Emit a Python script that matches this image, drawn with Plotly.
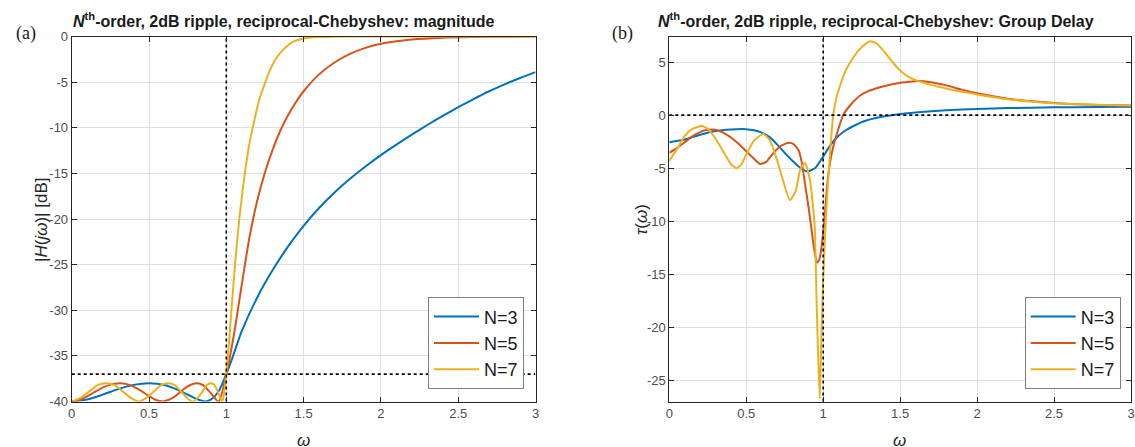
import plotly.graph_objects as go

# ---------------- data ----------------
series_names = ["N=3", "N=5", "N=7"]
series_colors = ["#0072BD", "#D95319", "#EDB120"]

# magnitude |H(jw)| in dB
mag_w3 = [0, 0.1, 0.2, 0.3, 0.4, 0.5, 0.6, 0.7, 0.8, 0.86, 0.9, 0.95, 1.0, 1.05, 1.1, 1.2, 1.3,
          1.4, 1.5, 1.6, 1.7, 1.8, 1.9, 2.0, 2.1, 2.2, 2.3, 2.4, 2.5, 2.6, 2.7, 2.8, 2.9, 3.0]
mag_db3 = [-40, -39.78, -39.25, -38.64, -38.18, -38.0, -38.2, -38.83, -39.65, -40.0, -39.8, -38.9,
           -37.0, -34.7, -32.3, -28.6, -25.6, -23.0, -20.75, -18.8, -17.1, -15.6, -14.25, -13.0,
           -11.85, -10.75, -9.7, -8.7, -7.75, -6.85, -6.0, -5.25, -4.55, -3.9]

mag_w5 = [0, 0.05, 0.1, 0.15, 0.2, 0.25, 0.31, 0.35, 0.4, 0.45, 0.5, 0.55, 0.59, 0.65, 0.7, 0.75,
          0.81, 0.85, 0.9, 0.95, 1.0, 1.05, 1.1, 1.15, 1.2, 1.25, 1.3, 1.35, 1.4, 1.45, 1.5, 1.6,
          1.7, 1.8, 1.9, 2.0, 2.2, 2.4, 2.6, 2.8, 3.0]
mag_db5 = [-40, -39.85, -39.45, -38.95, -38.48, -38.15, -38.0, -38.07, -38.37, -38.84, -39.41,
           -39.87, -40.0, -39.64, -38.99, -38.34, -38.0, -38.21, -39.09, -40.0, -37.0, -32.6,
           -27.2, -22.0, -18.0, -14.9, -12.4, -10.3, -8.6, -7.2, -6.0, -4.15, -2.85, -1.9,
           -1.25, -0.8, -0.33, -0.13, -0.05, -0.02, 0]

mag_w7 = [0, 0.056, 0.112, 0.1675, 0.2225, 0.2768, 0.3303, 0.3827, 0.4339, 0.4837, 0.532, 0.5786,
          0.6235, 0.6663, 0.7071, 0.7456, 0.7818, 0.8155, 0.8468, 0.8752, 0.901, 0.9239, 0.9439,
          0.9609, 0.9749, 0.988, 1.0, 1.02, 1.04, 1.06, 1.086, 1.11, 1.129, 1.15, 1.172, 1.2,
          1.215, 1.25, 1.28, 1.31, 1.344, 1.39, 1.43, 1.5, 1.6, 1.8, 3.0]
mag_db7 = [-40, -39.6, -38.9, -38.2, -38.0, -38.2, -38.9, -39.6, -40.0, -39.6, -38.9, -38.2,
           -38.0, -38.2, -38.9, -39.6, -40.0, -39.6, -38.9, -38.2, -38.0, -38.2, -38.9, -39.6,
           -40.0, -38.8, -37.0, -33.0, -28.5, -24.3, -19.7, -16.3, -13.9, -11.7, -9.9, -7.8,
           -6.8, -5.1, -3.8, -2.75, -1.9, -1.1, -0.6, -0.22, -0.06, 0.0, 0.0]

# group delay tau(w)
gd_w3 = [0, 0.1, 0.2, 0.3, 0.4, 0.5, 0.55, 0.6, 0.65, 0.7, 0.75, 0.8, 0.85, 0.9, 0.95, 1.0, 1.05,
         1.1, 1.15, 1.2, 1.27, 1.35, 1.5, 1.6, 1.8, 2.0, 2.2, 2.5, 2.8, 3.0]
gd_t3 = [-2.56, -2.3, -1.85, -1.5, -1.35, -1.32, -1.42, -1.65, -2.05, -2.75, -3.55, -4.3, -4.95,
         -5.3, -4.95, -3.9, -2.75, -1.95, -1.4, -1.0, -0.55, -0.25, 0.1, 0.25, 0.45, 0.58, 0.66,
         0.73, 0.77, 0.78]

gd_w5 = [0, 0.05, 0.1, 0.15, 0.2, 0.25, 0.3, 0.35, 0.4, 0.45, 0.5, 0.55, 0.59, 0.63, 0.68, 0.73,
         0.775, 0.81, 0.84, 0.86, 0.88, 0.9, 0.92, 0.94, 0.96, 0.975, 0.99, 1.0, 1.01, 1.022,
         1.035, 1.05, 1.065, 1.09, 1.13, 1.18, 1.24, 1.3, 1.4, 1.5, 1.6, 1.7, 1.8, 1.9, 2.0,
         2.2, 2.4, 2.6, 2.8, 3.0]
gd_t5 = [-3.53, -3.1, -2.55, -2.0, -1.6, -1.38, -1.38, -1.65, -2.1, -2.7, -3.4, -4.1, -4.6, -4.4,
         -3.5, -2.85, -2.6, -2.75, -3.3, -4.4, -6.3, -8.2, -10.3, -12.5, -13.9, -13.6, -12.3,
         -11.0, -9.5, -7.2, -5.4, -4.0, -3.0, -1.7, 0.0, 1.0, 1.85, 2.3, 2.75, 3.05, 3.2, 3.1,
         2.8, 2.4, 2.05, 1.55, 1.25, 1.05, 0.95, 0.9]

gd_w7 = [0, 0.05, 0.1, 0.15, 0.21, 0.25, 0.3, 0.35, 0.4, 0.437, 0.47, 0.5, 0.55, 0.61, 0.65, 0.7,
         0.74, 0.784, 0.82, 0.85, 0.88, 0.91, 0.93, 0.946, 0.957, 0.968, 0.978, 0.988, 1.0,
         1.01, 1.022, 1.04, 1.05, 1.065, 1.085, 1.108, 1.14, 1.173, 1.23, 1.28, 1.303, 1.34,
         1.39, 1.45, 1.5, 1.55, 1.6, 1.7, 1.8, 1.9, 2.0, 2.2, 2.4, 2.6, 2.8, 3.0]
gd_t7 = [-4.31, -3.2, -1.95, -1.3, -1.03, -1.3, -2.2, -3.4, -4.6, -5.0, -4.6, -3.7, -2.4, -1.78,
         -2.3, -4.2, -6.2, -8.0, -7.2, -5.2, -4.47, -5.8, -8.0, -10.8, -17.5, -23.0, -26.7,
         -21.0, -15.5, -12.0, -8.5, -4.5, -2.5, 0.0, 1.6, 2.7, 4.0, 4.9, 6.1, 6.75, 6.95, 6.8,
         6.1, 5.0, 4.2, 3.65, 3.3, 2.85, 2.5, 2.2, 1.95, 1.5, 1.22, 1.05, 0.95, 0.9]

# reference lines
cutoff_w = 1.0
mag_ref_db = -37.0
gd_ref = 0.0

# axis ranges and ticks
w_range = [0, 3]
mag_range = [-40, 0]
gd_range = [-26.95, 7.4]
w_ticks = [0, 0.5, 1, 1.5, 2, 2.5, 3]
w_ticktext = ["0", "0.5", "1", "1.5", "2", "2.5", "3"]
mag_ticks = [0, -5, -10, -15, -20, -25, -30, -35, -40]
mag_ticktext = ["0", "-5", "-10", "-15", "-20", "-25", "-30", "-35", "-40"]
gd_ticks = [5, 0, -5, -10, -15, -20, -25]
gd_ticktext = ["5", "0", "-5", "-10", "-15", "-20", "-25"]

title_a = "<b><i>N</i><sup>th</sup>-order, 2dB ripple, reciprocal-Chebyshev: magnitude</b>"
title_b = "<b><i>N</i><sup>th</sup>-order, 2dB ripple, reciprocal-Chebyshev: Group Delay</b>"

# ---------------- figure ----------------
W, H = 1135, 447
fig = go.Figure()

mag_data = [(mag_w3, mag_db3), (mag_w5, mag_db5), (mag_w7, mag_db7)]
gd_data = [(gd_w3, gd_t3), (gd_w5, gd_t5), (gd_w7, gd_t7)]

for (wx, yy), name, col in zip(mag_data, series_names, series_colors):
    fig.add_trace(go.Scatter(x=wx, y=yy, mode="lines", name=name,
                             line=dict(color=col, width=2, shape="spline", smoothing=0.7),
                             xaxis="x", yaxis="y", legend="legend"))
for (wx, yy), name, col in zip(gd_data, series_names, series_colors):
    fig.add_trace(go.Scatter(x=wx, y=yy, mode="lines", name=name,
                             line=dict(color=col, width=2, shape="spline", smoothing=0.5),
                             xaxis="x2", yaxis="y2", legend="legend2"))

dot = dict(color="black", width=1.6, dash="dot")
fig.add_trace(go.Scatter(x=[cutoff_w, cutoff_w], y=mag_range, mode="lines", line=dot,
                         showlegend=False, xaxis="x", yaxis="y", hoverinfo="skip"))
fig.add_trace(go.Scatter(x=w_range, y=[mag_ref_db, mag_ref_db], mode="lines", line=dot,
                         showlegend=False, xaxis="x", yaxis="y", hoverinfo="skip"))
fig.add_trace(go.Scatter(x=[cutoff_w, cutoff_w], y=gd_range, mode="lines", line=dot,
                         showlegend=False, xaxis="x2", yaxis="y2", hoverinfo="skip"))
fig.add_trace(go.Scatter(x=w_range, y=[gd_ref, gd_ref], mode="lines", line=dot,
                         showlegend=False, xaxis="x2", yaxis="y2", hoverinfo="skip"))

font_family = "Liberation Sans, Arial, Helvetica, sans-serif"
tickfont = dict(family=font_family, size=13, color="#4d4d4d")
axis_common = dict(showline=True, linecolor="#262626", linewidth=1, mirror="ticks",
                   ticks="inside", ticklen=5, tickcolor="#262626", tickwidth=1,
                   showgrid=True, gridcolor="#e0e0e0", gridwidth=1, zeroline=False,
                   tickfont=tickfont, automargin=False, ticklabeloverflow="allow")

dom_y = [1 - 401.5 / H, 1 - 36.5 / H]
legend_font = dict(family=font_family, size=18, color="#1a1a1a")
fig.update_layout(
    width=W, height=H,
    margin=dict(l=0, r=0, t=0, b=0, autoexpand=False),
    paper_bgcolor="white", plot_bgcolor="white",
    xaxis=dict(domain=[71.7 / W, 535.5 / W], range=w_range, tickvals=w_ticks,
               ticktext=w_ticktext, anchor="y", **axis_common),
    yaxis=dict(domain=dom_y, range=mag_range, tickvals=mag_ticks, ticktext=mag_ticktext,
               anchor="x", **axis_common),
    xaxis2=dict(domain=[669.3 / W, 1131 / W], range=w_range, tickvals=w_ticks,
                ticktext=w_ticktext, anchor="y2", **axis_common),
    yaxis2=dict(domain=dom_y, range=gd_range, tickvals=gd_ticks, ticktext=gd_ticktext,
                anchor="x2", **axis_common),
    legend=dict(x=524 / W, y=1 - 389.3 / H, xanchor="right", yanchor="bottom",
                bgcolor="white", bordercolor="#808080", borderwidth=1,
                font=legend_font, itemwidth=45),
    legend2=dict(x=1120.7 / W, y=1 - 389.3 / H, xanchor="right", yanchor="bottom",
                 bgcolor="white", bordercolor="#808080", borderwidth=1,
                 font=legend_font, itemwidth=45),
    showlegend=True,
)

serif = "Liberation Serif, Times New Roman, serif"
ann = []
ann.append(dict(text=title_a, x=71 / W, y=1 - 20 / H, xref="paper", yref="paper",
                xanchor="left", yanchor="middle", showarrow=False,
                font=dict(family=font_family, size=16, color="#1a1a1a")))
ann.append(dict(text=title_b, x=656 / W, y=1 - 20 / H, xref="paper", yref="paper",
                xanchor="left", yanchor="middle", showarrow=False,
                font=dict(family=font_family, size=16, color="#1a1a1a")))
ann.append(dict(text="(a)", x=26 / W, y=1 - 33 / H, xref="paper", yref="paper",
                xanchor="center", yanchor="middle", showarrow=False,
                font=dict(family=serif, size=18, color="#1a1a1a")))
ann.append(dict(text="(b)", x=622 / W, y=1 - 33 / H, xref="paper", yref="paper",
                xanchor="center", yanchor="middle", showarrow=False,
                font=dict(family=serif, size=18, color="#1a1a1a")))
ann.append(dict(text="|<i>H</i>(<i>jω</i>)| [dB]", x=41 / W, y=1 - 220 / H, xref="paper",
                yref="paper", xanchor="center", yanchor="middle", showarrow=False, textangle=-90,
                font=dict(family=font_family, size=17, color="#262626")))
ann.append(dict(text="<i>τ</i>(<i>ω</i>)", x=641 / W, y=1 - 220 / H, xref="paper",
                yref="paper", xanchor="center", yanchor="middle", showarrow=False, textangle=-90,
                font=dict(family=font_family, size=17, color="#262626")))
ann.append(dict(text="<i>ω</i>", x=303 / W, y=1 - 440 / H, xref="paper", yref="paper",
                xanchor="center", yanchor="middle", showarrow=False,
                font=dict(family=font_family, size=17, color="#262626")))
ann.append(dict(text="<i>ω</i>", x=900 / W, y=1 - 440 / H, xref="paper", yref="paper",
                xanchor="center", yanchor="middle", showarrow=False,
                font=dict(family=font_family, size=17, color="#262626")))
fig.update_layout(annotations=ann)

fig.write_html("out.html", config={"displayModeBar": False},
               post_script="document.body.style.margin='0';document.body.style.overflow='hidden';")
